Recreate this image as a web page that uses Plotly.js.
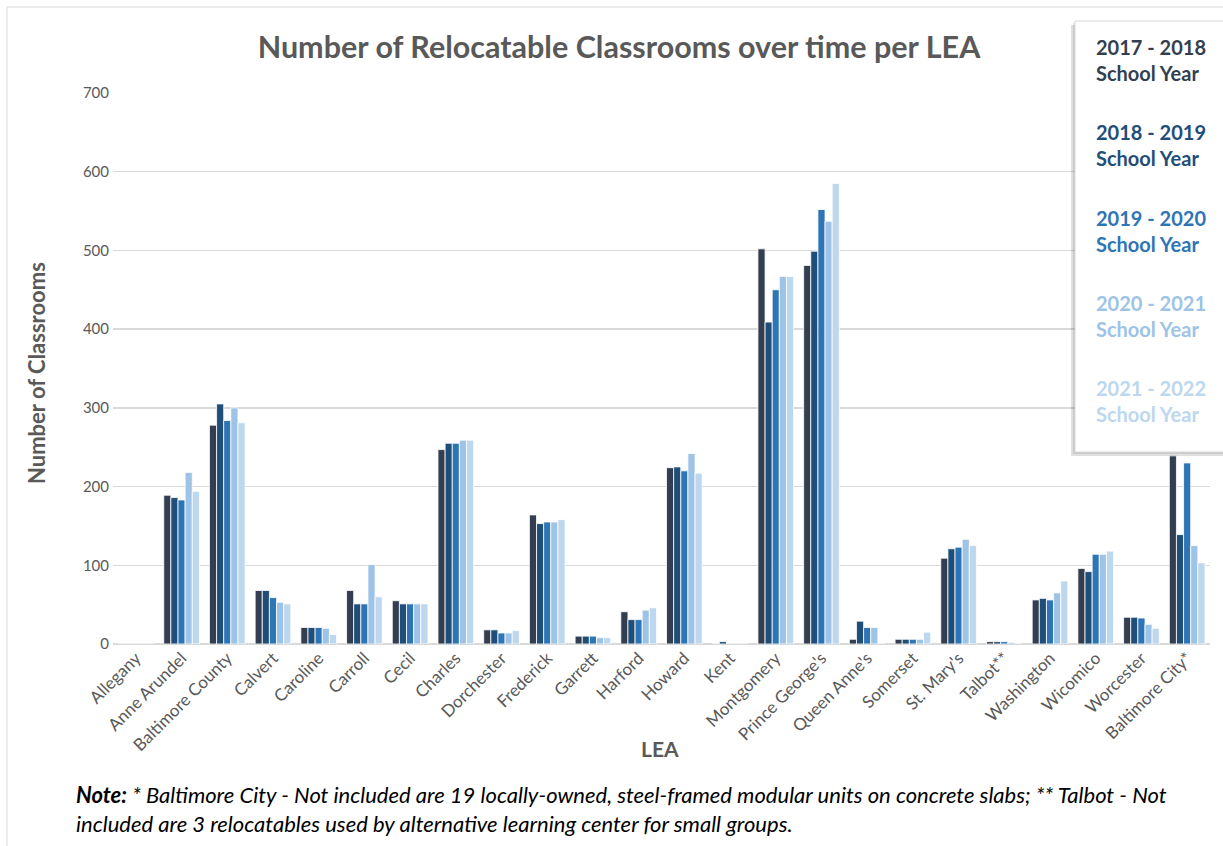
<!DOCTYPE html>
<html>
<head>
<meta charset="utf-8">
<script src="https://cdn.plot.ly/plotly-3.0.1.min.js"></script>
<style>
html,body{margin:0;padding:0;background:#fff;}
#chart{width:1223px;height:846px;}
</style>
</head>
<body>
<div id="chart"></div>
<script>
const categories = ["Allegany","Anne Arundel","Baltimore County","Calvert","Caroline","Carroll","Cecil","Charles","Dorchester","Frederick","Garrett","Harford","Howard","Kent","Montgomery","Prince George's","Queen Anne's","Somerset","St. Mary's","Talbot**","Washington","Wicomico","Worcester","Baltimore City*"];

const sy2017 = [0,189,278,68,21,68,55,247,18,164,10,41,224,0,502,481,6,6,109,3,56,96,34,239];
const sy2018 = [0,186,305,68,21,51,51,255,18,153,10,31,225,3,409,499,29,6,121,3,58,92,34,139];
const sy2019 = [0,183,284,59,21,51,51,255,14,155,10,31,220,0,450,552,21,6,123,3,56,114,33,230];
const sy2020 = [0,218,300,53,20,101,51,259,14,155,8,43,242,0,467,537,21,6,133,2,65,114,25,125];
const sy2021 = [0,194,281,51,12,60,51,259,17,158,8,46,217,0,467,585,0,15,125,0,80,118,20,103];

const seriesNames = ["2017 - 2018","2018 - 2019","2019 - 2020","2020 - 2021","2021 - 2022"];
const seriesValues = [sy2017, sy2018, sy2019, sy2020, sy2021];
const colors = ["#333f50","#1f4e79","#2e75b6","#9dc3e6","#bdd7ee"];

const W = 1223, H = 846;
const M = {l:113, r:13, t:93, b:202};
const PW = W - M.l - M.r, PH = H - M.t - M.b;
const px = x => (x - M.l) / PW;
const py = y => (H - M.b - y) / PH;

const FONT = "Lato, 'Open Sans', sans-serif";
const GRAY = "#595959";

const traces = seriesValues.map((vals, i) => ({
  type: "bar",
  name: seriesNames[i] + " School Year",
  x: categories,
  y: vals,
  marker: {color: colors[i], line: {color: "#ffffff", width: 0.8}},
  hoverinfo: "x+y+name"
}));

const annotations = [];
annotations.push({xref:"paper", yref:"paper", x:px(36), y:py(373), text:"<b>Number of Classrooms</b>",
  textangle:-90, showarrow:false, font:{family:FONT, size:22, color:GRAY}, xanchor:"center", yanchor:"middle"});
annotations.push({xref:"paper", yref:"paper", x:px(660), y:py(748), text:"<b>LEA</b>",
  showarrow:false, font:{family:FONT, size:21, color:GRAY}, xanchor:"center", yanchor:"middle"});
seriesNames.forEach((n, i) => {
  annotations.push({xref:"paper", yref:"paper", x:px(1094), y:py(60 + i*85.3), text:"<b>" + n + "<br>School Year</b>",
    showarrow:false, align:"left", xanchor:"left", yanchor:"middle",
    font:{family:FONT, size:20, color:colors[i]}});
});
annotations.push({xref:"paper", yref:"paper", x:px(74), y:py(809), xanchor:"left", yanchor:"middle", align:"left", showarrow:false,
  text:"<b><i>Note:</i></b><i> * Baltimore City - Not included are 19 locally-owned, steel-framed modular units on concrete slabs; ** Talbot - Not<br>included are 3 relocatables used by alternative learning center for small groups.</i>",
  font:{family:FONT, size:22, color:"#000000"}});

const shapes = [
  {type:"rect", xref:"paper", yref:"paper", x0:px(7), x1:px(1240), y0:py(7), y1:py(860),
   line:{color:"#d9d9d9", width:1}, fillcolor:"rgba(0,0,0,0)", layer:"below"},
  {type:"rect", xref:"paper", yref:"paper", x0:px(1071), x1:px(1240), y0:py(25), y1:py(456),
   line:{width:0}, fillcolor:"rgba(0,0,0,0.12)", layer:"above"},
  {type:"rect", xref:"paper", yref:"paper", x0:px(1073), x1:px(1240), y0:py(23), y1:py(454),
   line:{width:0}, fillcolor:"rgba(0,0,0,0.10)", layer:"above"},
  {type:"rect", xref:"paper", yref:"paper", x0:px(1075), x1:px(1240), y0:py(21), y1:py(452),
   line:{color:"#d9d9d9", width:1}, fillcolor:"#ffffff", layer:"above"}
];

const layout = {
  width: W, height: H,
  margin: M,
  paper_bgcolor: "#ffffff",
  plot_bgcolor: "#ffffff",
  barmode: "group",
  bargap: 0.22,
  bargroupgap: 0,
  showlegend: false,
  title: {text: "<b>Number of Relocatable Classrooms over time per LEA</b>",
    font: {family: FONT, size: 30.5, color: GRAY}, xref: "container", x: 619 / W, xanchor: "center", y: 1 - 47/H, yanchor: "middle"},
  xaxis: {
    type: "category",
    tickangle: -45,
    tickfont: {family: FONT, size: 17, color: GRAY},
    showgrid: false,
    showline: false,
    ticks: "",
    automargin: false,
    fixedrange: true
  },
  yaxis: {
    range: [0, 700],
    dtick: 100,
    tickfont: {family: FONT, size: 15, color: GRAY},
    gridcolor: "#d9d9d9",
    gridwidth: 1.5,
    zeroline: true,
    zerolinecolor: "#d9d9d9",
    zerolinewidth: 1.5,
    showline: false,
    ticks: "",
    ticklabelstandoff: 3,
    automargin: false,
    fixedrange: true
  },
  annotations: annotations,
  shapes: shapes
};

Plotly.newPlot("chart", traces, layout, {displayModeBar: false, staticPlot: true});
</script>
</body>
</html>
